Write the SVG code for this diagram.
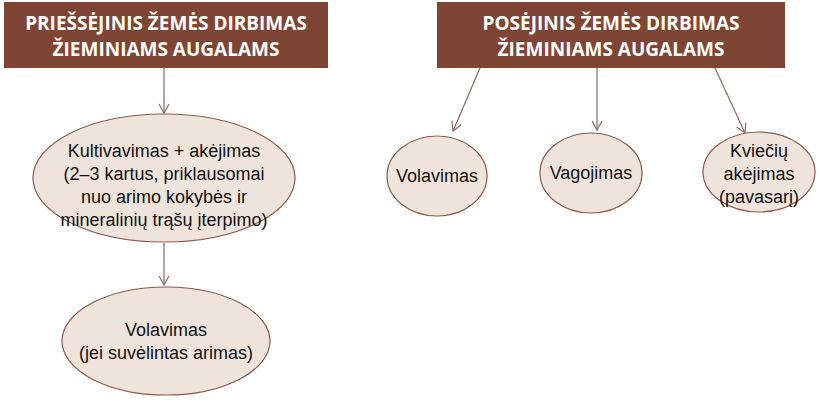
<svg xmlns="http://www.w3.org/2000/svg" width="820" height="403" viewBox="0 0 820 403">
<defs>
<style>
.hdr{fill:#7F4534}
.ht{font-family:"Open Sans","Liberation Sans",sans-serif;font-weight:bold;font-size:19px;fill:#fff;text-anchor:middle}
.el{fill:#EFE4DC;stroke:#8B5A4A;stroke-width:1.2}
.t{font-family:"Liberation Sans Narrow","Liberation Sans",sans-serif;font-size:18px;fill:#111;text-anchor:middle}
.c{stroke:#8B6A60;stroke-width:1.2;fill:none;marker-end:url(#a)}
</style>
<marker id="a" markerWidth="12" markerHeight="12" refX="10" refY="6" orient="auto" markerUnits="userSpaceOnUse">
<path d="M1,1 L10,6 L1,11" fill="none" stroke="#8B6A60" stroke-width="1.2"/>
</marker>
</defs>
<rect width="820" height="403" fill="#fff"/>
<g id="h1"><rect class="hdr" x="4" y="2" width="324" height="66"/>
<text class="ht" x="166" y="30">PRIEŠSĖJINIS ŽEMĖS DIRBIMAS</text>
<text class="ht" x="166" y="56">ŽIEMINIAMS AUGALAMS</text></g>
<g id="h2"><rect class="hdr" x="437" y="2" width="348" height="66"/>
<text class="ht" x="611" y="30">POSĖJINIS ŽEMĖS DIRBIMAS</text>
<text class="ht" x="611" y="56">ŽIEMINIAMS AUGALAMS</text></g>
<g id="connectors">
<line class="c" x1="164" y1="68" x2="164" y2="113"/>
<line class="c" x1="164" y1="243" x2="164" y2="285"/>
<line class="c" x1="480" y1="68" x2="453" y2="131"/>
<line class="c" x1="597" y1="68" x2="597" y2="130"/>
<line class="c" x1="715" y1="68" x2="745" y2="133"/>
</g>
<g id="n1"><ellipse class="el" cx="164" cy="178" rx="131" ry="64"/>
<text class="t" x="164" y="157">Kultivavimas + akėjimas</text>
<text class="t" x="164" y="180">(2–3 kartus, priklausomai</text>
<text class="t" x="164" y="203">nuo arimo kokybės ir</text>
<text class="t" x="164" y="226">mineralinių trąšų įterpimo)</text></g>
<g id="n2"><ellipse class="el" cx="166" cy="341" rx="104" ry="54"/>
<text class="t" x="166" y="336">Volavimas</text>
<text class="t" x="166" y="359">(jei suvėlintas arimas)</text></g>
<g id="n3"><ellipse class="el" cx="437" cy="176" rx="50" ry="40"/>
<text class="t" x="437" y="182">Volavimas</text></g>
<g id="n4"><ellipse class="el" cx="591" cy="173" rx="51" ry="40"/>
<text class="t" x="591" y="179">Vagojimas</text></g>
<g id="n5"><ellipse class="el" cx="759" cy="172" rx="56" ry="40"/>
<text class="t" x="759" y="157">Kviečių</text>
<text class="t" x="759" y="180">akėjimas</text>
<text class="t" x="759" y="203">(pavasarį)</text></g>
</svg>
